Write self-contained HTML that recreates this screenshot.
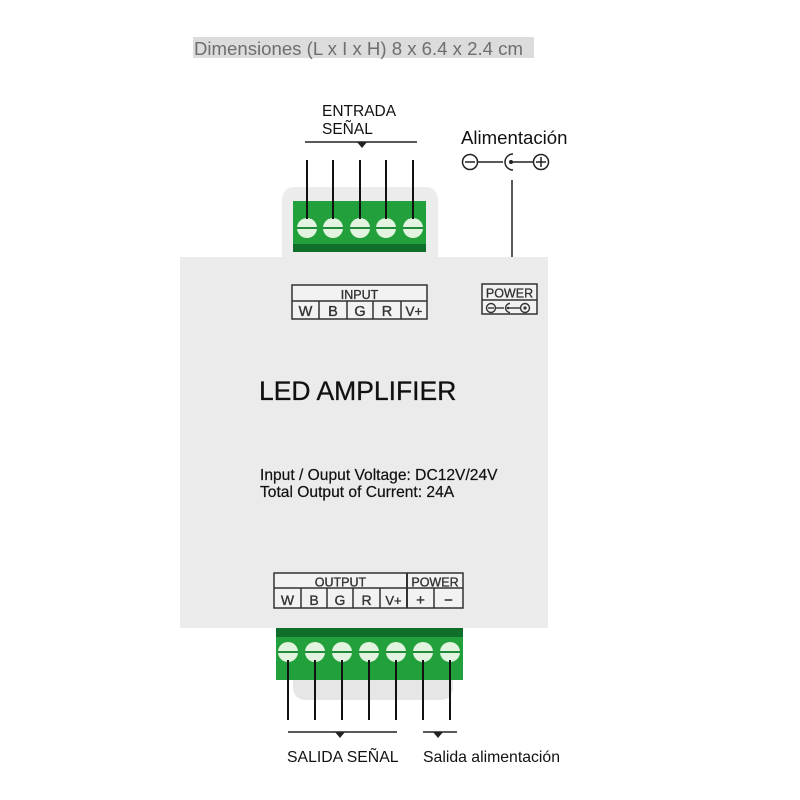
<!DOCTYPE html>
<html><head><meta charset="utf-8"><style>
html,body{margin:0;padding:0;background:#fff;width:800px;height:800px;overflow:hidden}
svg{display:block}
text{font-family:"Liberation Sans",Arial,sans-serif}
</style></head><body>
<svg width="800" height="800" viewBox="0 0 800 800" xmlns="http://www.w3.org/2000/svg">
<rect x="0" y="0" width="800" height="800" fill="#fff"/>
<!-- Dimensions -->
<rect x="193" y="37" width="341" height="21" fill="#dcdcdc"/>
<text x="194" y="55" font-size="18.6" fill="#6e6e6e">Dimensiones (L x I x H) 8 x 6.4 x 2.4 cm</text>

<!-- ENTRADA SEÑAL -->
<text x="322" y="116" font-size="15.5" fill="#111">ENTRADA</text>
<text x="322" y="134" font-size="15.5" fill="#111">SEÑAL</text>
<line x1="305" y1="142" x2="417" y2="142" stroke="#222" stroke-width="1.6"/>
<polygon points="357,142 367,142 362,148" fill="#222"/>

<!-- Alimentacion -->
<text x="461" y="144" font-size="18.6" fill="#111">Alimentación</text>
<circle cx="470" cy="162" r="7.5" fill="none" stroke="#222" stroke-width="1.5"/>
<line x1="465" y1="162" x2="475" y2="162" stroke="#222" stroke-width="1.5"/>
<line x1="477.5" y1="162" x2="503" y2="162" stroke="#222" stroke-width="1.5"/>
<path d="M513,154 A8,8 0 0 0 513,170" fill="none" stroke="#222" stroke-width="1.5"/>
<circle cx="511" cy="162" r="2" fill="#222"/>
<line x1="511" y1="162" x2="533" y2="162" stroke="#222" stroke-width="1.5"/>
<circle cx="541" cy="162" r="7.5" fill="none" stroke="#222" stroke-width="1.5"/>
<line x1="536" y1="162" x2="546" y2="162" stroke="#222" stroke-width="1.5"/>
<line x1="541" y1="157" x2="541" y2="167" stroke="#222" stroke-width="1.5"/>
<line x1="512" y1="180" x2="512" y2="258" stroke="#222" stroke-width="1.5"/>

<!-- top tab -->
<rect x="282" y="187" width="156" height="90" rx="12" fill="#ececec"/>
<!-- main box -->
<rect x="180" y="257" width="368" height="371" fill="#ebebeb"/>
<!-- bottom tab -->
<rect x="293" y="650" width="160" height="50" rx="12" fill="#e6e6e6"/>

<!-- top green block -->
<rect x="293" y="201" width="133" height="51" fill="#22a03c"/>
<rect x="293" y="244" width="133" height="8" fill="#0f6e2a"/>
<g stroke="#111" stroke-width="2">
<line x1="307" y1="160" x2="307" y2="219"/>
<line x1="333" y1="160" x2="333" y2="219"/>
<line x1="360" y1="160" x2="360" y2="219"/>
<line x1="386" y1="160" x2="386" y2="219"/>
<line x1="413" y1="160" x2="413" y2="219"/>
</g>
<g>
<circle cx="307" cy="228" r="10" fill="#e2f3df"/>
<circle cx="333" cy="228" r="10" fill="#e2f3df"/>
<circle cx="360" cy="228" r="10" fill="#e2f3df"/>
<circle cx="386" cy="228" r="10" fill="#e2f3df"/>
<circle cx="413" cy="228" r="10" fill="#e2f3df"/>
</g>
<g stroke="#1f8a3a" stroke-width="2">
<line x1="297" y1="228" x2="317" y2="228"/>
<line x1="323" y1="228" x2="343" y2="228"/>
<line x1="350" y1="228" x2="370" y2="228"/>
<line x1="376" y1="228" x2="396" y2="228"/>
<line x1="403" y1="228" x2="423" y2="228"/>
</g>
<g stroke="#111" stroke-width="2">
<line x1="307" y1="210" x2="307" y2="219"/>
<line x1="333" y1="210" x2="333" y2="219"/>
<line x1="360" y1="210" x2="360" y2="219"/>
<line x1="386" y1="210" x2="386" y2="219"/>
<line x1="413" y1="210" x2="413" y2="219"/>
</g>

<!-- INPUT table -->
<g stroke="#333" stroke-width="1.5" fill="none">
<rect x="292" y="285" width="135" height="34" fill="#f2f2f2"/>
<line x1="292" y1="301" x2="427" y2="301"/>
<line x1="319" y1="301" x2="319" y2="319"/>
<line x1="347" y1="301" x2="347" y2="319"/>
<line x1="373" y1="301" x2="373" y2="319"/>
<line x1="401" y1="301" x2="401" y2="319"/>
</g>
<g fill="#333" stroke="#333" stroke-width="0.35" text-anchor="middle">
<text x="359.5" y="299" font-size="12.5">INPUT</text>
<text x="305.5" y="316" font-size="14.5">W</text>
<text x="333" y="316" font-size="14.5">B</text>
<text x="360" y="316" font-size="14.5">G</text>
<text x="387" y="316" font-size="14.5">R</text>
<text x="414" y="316" font-size="13.5">V+</text>
</g>

<!-- POWER box -->
<g stroke="#333" stroke-width="1.5" fill="none">
<rect x="482" y="284" width="55" height="30" fill="#f2f2f2"/>
<line x1="482" y1="300" x2="537" y2="300"/>
</g>
<text x="509.5" y="297.5" font-size="12.5" fill="#333" stroke="#333" stroke-width="0.3" text-anchor="middle">POWER</text>
<g stroke="#333" stroke-width="1.4" fill="none">
<circle cx="491" cy="308" r="4.5"/>
<line x1="488" y1="308" x2="494" y2="308"/>
<line x1="495.5" y1="308" x2="504" y2="308"/>
<path d="M510,303.5 A4.5,4.5 0 0 0 510,312.5"/>
<line x1="508" y1="308" x2="520.5" y2="308"/>
<circle cx="525" cy="308" r="4.5"/>
</g>
<circle cx="525" cy="308" r="1.6" fill="#333"/>
<circle cx="508" cy="308" r="1.3" fill="#333"/>

<!-- LED AMPLIFIER -->
<text x="259" y="400" font-size="26.5" fill="#111" stroke="#111" stroke-width="0.3">LED AMPLIFIER</text>
<text x="260" y="480" font-size="15.6" fill="#111" stroke="#111" stroke-width="0.2">Input / Ouput Voltage: DC12V/24V</text>
<text x="260" y="497" font-size="15.6" fill="#111" stroke="#111" stroke-width="0.2">Total Output of Current: 24A</text>

<!-- OUTPUT table -->
<g stroke="#333" stroke-width="1.5" fill="none">
<rect x="274" y="573" width="189" height="35" fill="#f2f2f2"/>
<line x1="274" y1="588" x2="463" y2="588"/>
<line x1="301" y1="588" x2="301" y2="608"/>
<line x1="327" y1="588" x2="327" y2="608"/>
<line x1="353" y1="588" x2="353" y2="608"/>
<line x1="380" y1="588" x2="380" y2="608"/>
<line x1="407" y1="573" x2="407" y2="608" stroke-width="2"/>
<line x1="434" y1="588" x2="434" y2="608"/>
</g>
<g fill="#333" stroke="#333" stroke-width="0.35" text-anchor="middle">
<text x="340.5" y="586.5" font-size="12.5">OUTPUT</text>
<text x="435" y="586.5" font-size="12.5">POWER</text>
<text x="287.5" y="605" font-size="14">W</text>
<text x="314" y="605" font-size="14">B</text>
<text x="340" y="605" font-size="14">G</text>
<text x="366.5" y="605" font-size="14">R</text>
<text x="393.5" y="605" font-size="13">V+</text>
<text x="420.5" y="605" font-size="15">+</text>
<text x="448.5" y="605" font-size="15">−</text>
</g>

<!-- bottom green -->
<rect x="276" y="628" width="187" height="52" fill="#22a03c"/>
<rect x="276" y="628" width="187" height="9" fill="#0f6e2a"/>
<g fill="#e2f3df">
<circle cx="288" cy="652" r="10"/>
<circle cx="315" cy="652" r="10"/>
<circle cx="342" cy="652" r="10"/>
<circle cx="369" cy="652" r="10"/>
<circle cx="396" cy="652" r="10"/>
<circle cx="423" cy="652" r="10"/>
<circle cx="450" cy="652" r="10"/>
</g>
<g stroke="#1f8a3a" stroke-width="2">
<line x1="278" y1="652" x2="298" y2="652"/>
<line x1="305" y1="652" x2="325" y2="652"/>
<line x1="332" y1="652" x2="352" y2="652"/>
<line x1="359" y1="652" x2="379" y2="652"/>
<line x1="386" y1="652" x2="406" y2="652"/>
<line x1="413" y1="652" x2="433" y2="652"/>
<line x1="440" y1="652" x2="460" y2="652"/>
</g>
<g stroke="#111" stroke-width="2">
<line x1="288" y1="660" x2="288" y2="720"/>
<line x1="315" y1="660" x2="315" y2="720"/>
<line x1="342" y1="660" x2="342" y2="720"/>
<line x1="369" y1="660" x2="369" y2="720"/>
<line x1="396" y1="660" x2="396" y2="720"/>
<line x1="423" y1="660" x2="423" y2="720"/>
<line x1="450" y1="660" x2="450" y2="720"/>
</g>
<line x1="288" y1="732" x2="397" y2="732" stroke="#222" stroke-width="1.6"/>
<polygon points="335,732 345,732 340,738" fill="#222"/>
<line x1="423" y1="732" x2="457" y2="732" stroke="#222" stroke-width="1.6"/>
<polygon points="433,732 443,732 438,738" fill="#222"/>
<text x="287" y="762" font-size="15.8" fill="#111">SALIDA SEÑAL</text>
<text x="423" y="762" font-size="15.8" fill="#111">Salida alimentación</text>
</svg>
</body></html>
